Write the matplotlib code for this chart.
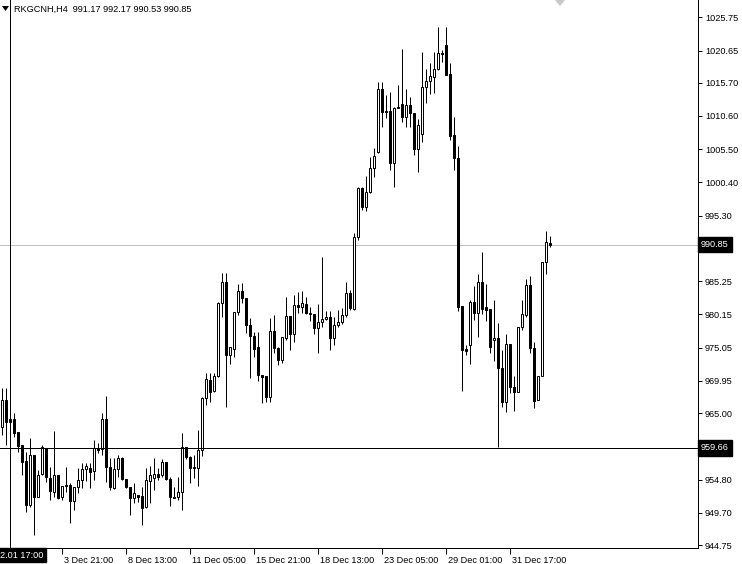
import numpy as np
import matplotlib
matplotlib.use("Agg")
import matplotlib.pyplot as plt
from matplotlib.patches import Polygon
from matplotlib.transforms import ScaledTranslation

# H4 candles, RKGCNH
opens = [962.86, 967.01, 963.63, 964.09, 962.10, 960.10, 957.65, 950.89, 958.57, 952.12,
         955.65, 959.64, 955.04, 952.89, 955.50, 952.12, 953.96, 953.96, 951.51, 953.66,
         954.73, 956.42, 956.57, 956.11, 959.64, 959.48, 964.09, 956.73, 953.50, 956.42,
         958.11, 954.88, 953.66, 951.97, 952.43, 952.27, 950.59, 954.58, 955.04, 955.65,
         955.50, 957.49, 954.88, 952.12, 952.12, 952.89, 959.80, 958.26, 956.73, 956.57,
         959.33, 967.32, 970.08, 968.39, 970.69, 981.90, 985.12, 973.92, 974.84, 980.52,
         983.74, 982.66, 978.52, 976.83, 975.14, 970.85, 970.69, 967.47, 977.60, 974.99,
         973.15, 976.53, 979.90, 977.14, 981.59, 981.28, 981.74, 980.36, 980.21, 978.06,
         978.98, 979.44, 979.75, 976.53, 978.52, 978.98, 980.06, 983.43, 980.98, 992.03,
         999.55, 996.63, 998.94, 1002.62, 1005.07, 1014.74, 1011.37, 1011.37, 1003.39, 1011.98,
         1012.44, 1010.45, 1012.29, 1011.06, 1005.53, 1007.84, 1015.05, 1015.97, 1016.59, 1017.81,
         1020.27, 1021.50, 1017.05, 1007.68, 1004.15, 981.44, 974.84, 975.45, 982.05, 980.36,
         985.12, 981.28, 980.98, 976.22, 976.53, 971.92, 966.70, 975.60, 969.00, 968.24,
         978.21, 980.06, 984.66, 974.99, 967.01, 970.69, 988.19, 991.17]
highs = [968.85, 968.85, 965.01, 965.01, 962.10, 960.10, 959.03, 961.18, 958.57, 956.27,
         960.10, 959.64, 956.73, 962.25, 955.50, 953.81, 956.73, 954.27, 953.66, 956.57,
         957.34, 957.34, 957.34, 960.87, 960.41, 965.01, 967.62, 958.11, 958.11, 958.57,
         958.26, 954.88, 953.66, 954.27, 952.43, 953.66, 956.57, 956.88, 958.11, 956.57,
         957.95, 957.49, 955.19, 953.66, 955.19, 961.94, 959.80, 958.41, 958.57, 962.40,
         967.47, 971.15, 971.15, 971.15, 982.05, 986.50, 986.50, 975.14, 980.52, 984.81,
         984.97, 982.66, 979.60, 977.45, 977.45, 970.85, 970.69, 979.60, 980.06, 975.14,
         976.68, 982.82, 979.90, 983.13, 983.59, 983.74, 982.82, 981.28, 980.21, 981.74,
         988.96, 980.67, 980.67, 979.75, 980.82, 981.13, 985.12, 983.89, 992.64, 999.70,
         999.70, 1001.39, 1004.31, 1005.69, 1015.82, 1015.82, 1013.82, 1014.28, 1011.98, 1015.36,
         1020.88, 1014.74, 1013.52, 1011.06, 1010.14, 1020.42, 1017.81, 1018.74, 1020.42, 1024.26,
         1020.73, 1024.26, 1018.74, 1010.45, 1006.00, 981.44, 975.45, 982.36, 984.51, 986.35,
         989.73, 984.81, 980.98, 982.36, 978.83, 974.68, 977.14, 975.60, 970.69, 978.21,
         982.36, 985.58, 986.04, 975.91, 970.69, 988.19, 992.95, 992.17]
lows = [961.64, 960.10, 960.87, 961.33, 959.03, 955.50, 949.82, 950.59, 946.29, 952.12,
        955.50, 954.42, 951.66, 952.12, 951.81, 951.66, 952.89, 948.13, 950.13, 952.73,
        953.50, 954.58, 953.50, 954.73, 958.87, 958.57, 954.42, 953.20, 953.35, 955.19,
        954.73, 953.50, 949.36, 951.20, 951.35, 947.82, 950.43, 951.20, 953.20, 954.73,
        955.19, 954.73, 950.74, 951.97, 951.66, 950.13, 957.95, 954.27, 955.04, 953.81,
        958.41, 966.24, 966.70, 968.24, 970.54, 979.75, 965.93, 972.53, 973.61, 980.06,
        981.90, 977.29, 970.39, 973.61, 969.93, 966.55, 966.70, 966.70, 974.22, 972.38,
        972.69, 976.22, 974.68, 975.91, 980.36, 980.36, 980.21, 979.14, 977.14, 974.22,
        978.21, 979.29, 974.68, 975.45, 978.21, 978.67, 979.75, 980.82, 980.82, 991.57,
        996.17, 996.02, 998.78, 1001.24, 1004.92, 1008.91, 1010.29, 1002.31, 999.70, 1011.83,
        1009.68, 1008.91, 1008.91, 1004.61, 1002.01, 1006.61, 1012.60, 1013.98, 1014.13, 1017.66,
        1018.89, 1016.89, 1006.92, 1002.31, 980.67, 968.39, 973.92, 972.53, 979.29, 976.68,
        980.21, 979.14, 974.22, 972.99, 959.80, 965.93, 965.17, 968.08, 965.32, 968.24,
        977.75, 979.75, 974.22, 965.78, 967.01, 970.69, 986.35, 990.53]
closes = [967.01, 963.63, 964.09, 961.94, 959.95, 957.49, 950.89, 958.57, 952.12, 955.50,
          959.80, 955.19, 953.04, 955.50, 951.97, 953.81, 953.81, 951.51, 953.66, 954.73,
          956.42, 956.88, 955.96, 959.64, 959.33, 964.09, 956.73, 953.66, 956.42, 958.11,
          954.88, 953.66, 951.97, 952.73, 952.12, 950.43, 954.73, 955.50, 955.65, 955.19,
          957.49, 954.88, 952.12, 952.04, 952.89, 959.80, 958.26, 956.57, 956.57, 959.33,
          967.32, 970.23, 968.24, 970.69, 981.90, 985.12, 973.92, 975.14, 980.52, 983.74,
          982.66, 978.52, 976.83, 974.84, 970.85, 970.54, 967.47, 977.60, 974.99, 973.15,
          976.68, 979.90, 977.14, 981.59, 981.28, 981.90, 980.36, 980.21, 978.06, 978.98,
          979.44, 979.75, 976.53, 978.52, 978.98, 980.06, 983.43, 981.13, 992.03, 999.55,
          996.63, 998.94, 1002.62, 1004.46, 1014.74, 1011.21, 1011.21, 1003.39, 1011.83, 1011.83,
          1010.45, 1012.29, 1011.06, 1005.53, 1009.22, 1015.05, 1015.97, 1016.74, 1017.81, 1020.27,
          1020.12, 1016.89, 1007.53, 1004.15, 981.28, 974.68, 974.53, 982.05, 980.36, 985.12,
          980.98, 980.82, 975.14, 976.53, 971.92, 966.70, 975.60, 969.00, 968.24, 978.21,
          980.21, 984.66, 974.99, 966.86, 970.69, 988.19, 991.26, 990.85]

price_ticks = [1025.75, 1020.65, 1015.70, 1010.60, 1005.50, 1000.40, 995.30, 990.20,
               985.25, 980.15, 975.05, 969.95, 965.00, 959.90, 954.80, 949.70, 944.75]
time_tick_bars = [15, 31, 47, 63, 79, 95, 111, 127]
time_tick_labels = ["3 Dec 21:00", "8 Dec 13:00", "11 Dec 05:00", "15 Dec 21:00",
                    "18 Dec 13:00", "23 Dec 05:00", "29 Dec 01:00", "31 Dec 17:00"]
bid = 990.85
cross_price = 959.66
cross_bar = 2
cross_label = "2.01 17:00"   # visible part of 2021.12.01 17:00
title = "RKGCNH,H4  991.17 992.17 990.53 990.85"

o = np.array(opens); h = np.array(highs); l = np.array(lows); c = np.array(closes)
x = np.arange(len(o))

W, H = 742, 564
fig = plt.figure(figsize=(W / 100, H / 100), dpi=100)
ax = fig.add_axes([0, 16 / H, 698 / W, 548 / H])
ax.set_facecolor("white")

px = 0.72  # one pixel in points
ax.vlines(x, l, h, color="black", lw=px, zorder=2)
up = c >= o
ax.bar(x[up], c[up] - o[up], bottom=o[up], width=0.5, color="white",
       edgecolor="black", lw=px, zorder=3)
ax.bar(x[~up], o[~up] - c[~up], bottom=c[~up], width=0.5, color="black",
       edgecolor="black", lw=px, zorder=3)

# bid line and crosshair
ax.axhline(bid, color="#c0c0c0", lw=px, zorder=1)
ax.axhline(cross_price, color="black", lw=px, zorder=4)
ax.axvline(cross_bar, color="black", lw=px, zorder=4)

ax.set_xlim(-0.6, 173.9)
ax.set_ylim(944.29, 1028.405)

for s in ["left", "top"]:
    ax.spines[s].set_visible(False)
for s in ["right", "bottom"]:
    ax.spines[s].set_linewidth(px)

fnt = dict(family="Liberation Sans", size=6.6)
ax.yaxis.tick_right()
ax.set_yticks(price_ticks)
# labels under the price boxes are hidden
hidden = {990.20, 959.90}
ax.set_yticklabels(["" if v in hidden else f"{v:.2f}" for v in price_ticks], **fnt)
ax.tick_params(axis="y", direction="out", length=3, width=px, pad=2)
ax.set_xticks(time_tick_bars)
ax.set_xticklabels(time_tick_labels, ha="left", **fnt)
ax.tick_params(axis="x", direction="out", length=4, width=px, pad=2)
off = ScaledTranslation(2 / 100, 0, fig.dpi_scale_trans)
for lbl in ax.get_xticklabels():
    lbl.set_transform(lbl.get_transform() + off)

# price boxes on the right scale
box_off = ScaledTranslation(3 / 100, 0, fig.dpi_scale_trans)
for v in [bid, cross_price]:
    ax.text(1.0, v, f"{v:.2f}", transform=ax.get_yaxis_transform() + box_off,
            va="center", ha="left", color="white", clip_on=False, zorder=10,
            bbox=dict(boxstyle="square,pad=0.35", fc="black", ec="black"), **fnt)

# crosshair time box (cut at the left edge)
ax.text(0.0, -2.5 / 548, cross_label, transform=ax.transAxes, ha="left",
        va="top", color="white", clip_on=False, zorder=10,
        bbox=dict(boxstyle="square,pad=0.25", fc="black", ec="black"), **fnt)

# header
fig.text(14 / W, 1 - 9 / H, title, ha="left", va="center", color="black", **fnt)
fig.patches.append(Polygon([[2, H - 6], [9, H - 6], [5.5, H - 11]], closed=True,
                           transform=None, fc="black", ec="none"))
# chart shift marker
fig.patches.append(Polygon([[555, H], [565, H], [560, H - 6]], closed=True,
                           transform=None, fc="#c8c8c8", ec="none"))

fig.savefig("out.png", dpi=100)
